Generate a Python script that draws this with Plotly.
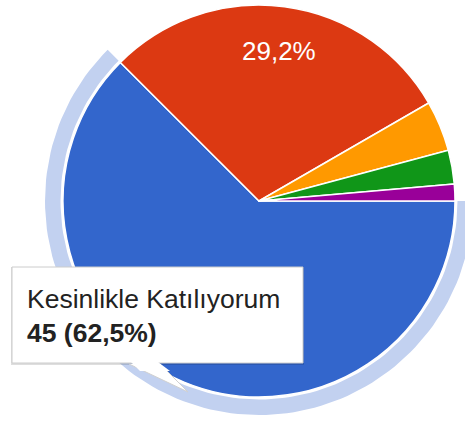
import math
import plotly.graph_objects as go

# ---- data ----
labels = ["Kesinlikle Katılıyorum", "Katılıyorum", "Kararsızım", "Katılmıyorum", "Kesinlikle Katılmıyorum"]
values = [45, 21, 3, 2, 1]
colors = ["#3366cc", "#dc3912", "#ff9900", "#109618", "#990099"]
highlight = 0  # slice shown as hovered

# ---- layout constants (pixels) ----
W, H = 465, 425
CX, CY, R = 259, 201, 196
RING_IN, RING_OUT = 198.5, 214
ROT = 90
LABEL_R = 0.77
FONT = "Arial, Liberation Sans, sans-serif"

total = sum(values)
pct = [f"{100 * v / total:.1f}".replace(".", ",") + "%" for v in values]

fig = go.Figure()

# halo ring around highlighted slice, angles derived from the data
a0 = ROT + 360 * sum(values[:highlight]) / total
a1 = a0 + 360 * values[highlight] / total
n = 120
th = [math.radians(a0 + (a1 - a0) * i / n) for i in range(n + 1)]
ring_x = [CX + RING_OUT * math.sin(t) for t in th] + [CX + RING_IN * math.sin(t) for t in reversed(th)]
ring_y = [CY - RING_OUT * math.cos(t) for t in th] + [CY - RING_IN * math.cos(t) for t in reversed(th)]
fig.add_trace(go.Scatter(x=ring_x, y=ring_y, fill="toself", fillcolor="#c2d1f0",
                         line=dict(width=0), mode="lines", hoverinfo="skip", showlegend=False))

fig.add_trace(go.Pie(
    labels=labels, values=values, sort=False, direction="clockwise", rotation=ROT,
    marker=dict(colors=colors, line=dict(color="white", width=1.5)),
    textinfo="none",
    domain=dict(x=[(CX - R) / W, (CX + R) / W], y=[1 - (CY + R) / H, 1 - (CY - R) / H]),
    showlegend=False, hoverinfo="skip",
))

# slice percentage labels (slices >= 5%, except the one under the tooltip)
cum = 0
for i, v in enumerate(values):
    mid = math.radians(ROT + 360 * (cum + v / 2) / total)
    cum += v
    if v / total < 0.05 or i == highlight:
        continue
    fig.add_annotation(
        xref="x", yref="y", showarrow=False,
        x=CX + LABEL_R * R * math.sin(mid), y=CY - LABEL_R * R * math.cos(mid),
        xanchor="center", yanchor="middle", text=pct[i],
        font=dict(size=26, color="white", family=FONT),
    )

# tooltip
BX0, BX1, BY0, BY1 = 12, 303, 267, 363
shapes = [
    dict(type="rect", xref="x", yref="y", x0=BX0 - 1, x1=BX1 + 1, y0=BY0, y1=BY1 + 2,
         fillcolor="rgba(0,0,0,0.13)", line=dict(width=0), layer="above"),
    dict(type="rect", xref="x", yref="y", x0=BX0, x1=BX1, y0=BY0, y1=BY1,
         fillcolor="white", line=dict(color="#cccccc", width=1), layer="above"),
    dict(type="path", xref="x", yref="y",
         path=f"M 129,{BY1 + 1} L 188,392 L 160,{BY1 + 1}",
         fillcolor="white", line=dict(color="#d0d0d0", width=1), layer="above"),
    dict(type="path", xref="x", yref="y",
         path=f"M 131,{BY1 - 1} L 158,{BY1 - 1} L 170,{BY1 + 8} L 140,{BY1 + 8} Z",
         fillcolor="white", line=dict(width=0), layer="above"),
]
fig.update_layout(shapes=shapes)
fig.add_annotation(
    xref="x", yref="y", x=25, y=(BY0 + BY1) / 2 + 1, xanchor="left", yanchor="middle",
    align="left", showarrow=False,
    text=f"{labels[highlight]}<br><b>{values[highlight]} ({pct[highlight]})</b>",
    font=dict(size=26.5, color="#222222", family=FONT),
)

fig.update_layout(
    width=W, height=H, autosize=False,
    margin=dict(l=0, r=0, t=0, b=0, pad=0),
    paper_bgcolor="white", plot_bgcolor="white",
    xaxis=dict(range=[0, W], visible=False, fixedrange=True, domain=[0, 1]),
    yaxis=dict(range=[H, 0], visible=False, fixedrange=True, domain=[0, 1]),
    separators=",.",
)
fig.write_html("out.html")
